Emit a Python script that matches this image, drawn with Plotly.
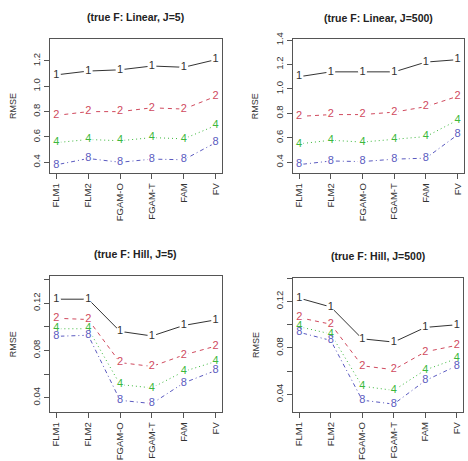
import plotly.graph_objects as go

methods = ["FLM1", "FLM2", "FGAM-O", "FGAM-T", "FAM", "FV"]
series_labels = ["1", "2", "4", "8"]

# Panel 1: true F Linear, J=5
lin5_s1 = [1.09, 1.12, 1.13, 1.16, 1.15, 1.21]
lin5_s2 = [0.77, 0.80, 0.80, 0.83, 0.82, 0.92]
lin5_s4 = [0.555, 0.58, 0.57, 0.595, 0.585, 0.69]
lin5_s8 = [0.38, 0.43, 0.40, 0.425, 0.42, 0.555]

# Panel 2: true F Linear, J=500
lin500_s1 = [1.10, 1.14, 1.14, 1.14, 1.22, 1.24]
lin500_s2 = [0.775, 0.79, 0.79, 0.81, 0.855, 0.94]
lin500_s4 = [0.55, 0.58, 0.565, 0.59, 0.61, 0.745]
lin500_s8 = [0.38, 0.41, 0.405, 0.425, 0.433, 0.625]

# Panel 3: true F Hill, J=5
hill5_s1 = [0.1233, 0.1233, 0.0961, 0.0922, 0.1011, 0.1058]
hill5_s2 = [0.1072, 0.1061, 0.0697, 0.0664, 0.0761, 0.0836]
hill5_s4 = [0.0983, 0.0983, 0.0511, 0.0483, 0.0622, 0.0706]
hill5_s8 = [0.0919, 0.0928, 0.0378, 0.0350, 0.0525, 0.0630]

# Panel 4: true F Hill, J=500
hill500_s1 = [0.1228, 0.1152, 0.0878, 0.0850, 0.0976, 0.0999]
hill500_s2 = [0.1060, 0.1004, 0.0646, 0.0612, 0.0766, 0.0822]
hill500_s4 = [0.0982, 0.0920, 0.0470, 0.0434, 0.0610, 0.0708]
hill500_s8 = [0.0934, 0.0864, 0.0350, 0.0316, 0.0518, 0.0646]

titles = ["(true F: Linear, J=5)", "(true F: Linear, J=500)",
          "(true F: Hill, J=5)", "(true F: Hill, J=500)"]

y_ticks_lin = [0.4, 0.6, 0.8, 1.0, 1.2]
y_ticktext_lin = ["0.4", "0.6", "0.8", "1.0", "1.2"]
y_ticks_lin2 = [0.4, 0.6, 0.8, 1.0, 1.2, 1.4]
y_ticktext_lin2 = ["0.4", "0.6", "0.8", "1.0", "1.2", "1.4"]
y_ticks_hill = [0.04, 0.06, 0.08, 0.10, 0.12, 0.14]
y_ticktext_hill = ["0.04", "", "0.08", "", "0.12", ""]

panels = [
    dict(data=[lin5_s1, lin5_s2, lin5_s4, lin5_s8], yr=[0.312, 1.377],
         tv=y_ticks_lin, tt=y_ticktext_lin,
         xd=[50/468, 222/468], yd=[1-169/461, 1-32/461]),
    dict(data=[lin500_s1, lin500_s2, lin500_s4, lin500_s8], yr=[0.308, 1.405],
         tv=y_ticks_lin2, tt=y_ticktext_lin2,
         xd=[292.7/468, 464/468], yd=[1-169/461, 1-33/461]),
    dict(data=[hill5_s1, hill5_s2, hill5_s4, hill5_s8], yr=[0.0275, 0.1428],
         tv=y_ticks_hill, tt=y_ticktext_hill,
         xd=[50/468, 222/468], yd=[1-411.7/461, 1-273.3/461]),
    dict(data=[hill500_s1, hill500_s2, hill500_s4, hill500_s8], yr=[0.0246, 0.1403],
         tv=y_ticks_hill, tt=y_ticktext_hill,
         xd=[293/468, 463/468], yd=[1-411.5/461, 1-275/461]),
]

colors = ["#333333", "#D04A5E", "#3CB83C", "#5A5AC0"]
dashes = ["solid", "4px,4px", "1px,3px", "1px,3px,4px,3px"]
FONT = "Liberation Sans, Arial, sans-serif"

fig = go.Figure()
layout = dict(
    width=468, height=461, margin=dict(l=0, r=0, t=0, b=0),
    paper_bgcolor="white", plot_bgcolor="white", showlegend=False,
    font=dict(family=FONT, size=9, color="#333333"),
)
annotations = []

for i, p in enumerate(panels):
    k = "" if i == 0 else str(i + 1)
    xa, ya = "x" + k, "y" + k
    # lines with white gap markers
    for s, vals in enumerate(p["data"]):
        fig.add_trace(go.Scatter(
            x=methods, y=vals, mode="lines+markers", xaxis=xa, yaxis=ya,
            line=dict(color=colors[s], width=1, dash=dashes[s]),
            marker=dict(color="white", size=9, line=dict(width=0)),
            hoverinfo="skip"))
    # plotting characters
    for s, vals in enumerate(p["data"]):
        fig.add_trace(go.Scatter(
            x=methods, y=vals, mode="text", xaxis=xa, yaxis=ya,
            text=[series_labels[s]] * len(vals), textposition="middle center",
            textfont=dict(color=colors[s], size=11, family=FONT),
            hoverinfo="skip"))
    layout["xaxis" + k] = dict(
        domain=p["xd"], anchor=ya, type="category", categoryorder="array",
        categoryarray=methods, range=[-0.2, 5.2], showgrid=False, zeroline=False,
        showline=True, mirror=True, linecolor="#555555", linewidth=1,
        ticks="outside", ticklen=5, tickcolor="#555555", tickangle=-90,
        tickfont=dict(size=9.5, color="#333333", family=FONT))
    layout["yaxis" + k] = dict(
        domain=p["yd"], anchor=xa, range=p["yr"], tickvals=p["tv"], ticktext=p["tt"],
        showgrid=False, zeroline=False, showline=True, mirror=True,
        linecolor="#555555", linewidth=1, ticks="outside", ticklen=5,
        tickcolor="#555555", tickangle=-90,
        tickfont=dict(size=9.5, color="#333333", family=FONT))
    xc = (p["xd"][0] + p["xd"][1]) / 2
    ytop = p["yd"][1]
    annotations.append(dict(
        text="<b>" + titles[i] + "</b>", x=xc, y=ytop + 22/461, xref="paper", yref="paper",
        xanchor="center", yanchor="middle", showarrow=False,
        font=dict(size=10.5, color="#222222", family=FONT)))
    annotations.append(dict(
        text="RMSE", x=p["xd"][0] - 37/468, y=(p["yd"][0] + p["yd"][1]) / 2,
        xref="paper", yref="paper", xanchor="center", yanchor="middle",
        textangle=-90, showarrow=False,
        font=dict(size=9, color="#333333", family=FONT)))

layout["annotations"] = annotations
fig.update_layout(**layout)
fig.write_html("out.html")
